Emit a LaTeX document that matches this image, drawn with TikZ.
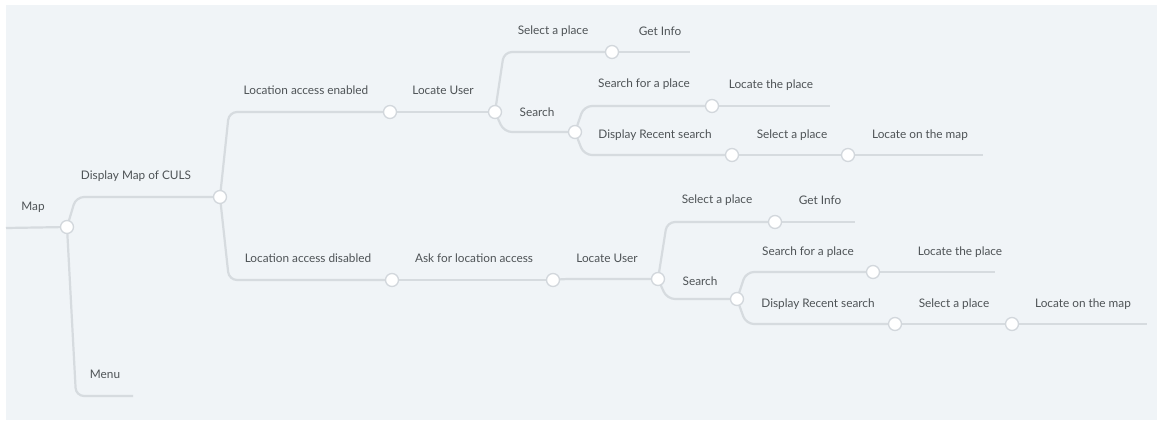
\documentclass[tikz,border=0pt]{standalone}
\usepackage{fontspec}
\setmainfont{Lato}
\usetikzlibrary{backgrounds}
\definecolor{bgc}{HTML}{F0F4F7}
\definecolor{linec}{HTML}{D6DBDF}
\definecolor{dotc}{HTML}{D2D7DC}
\definecolor{txtc}{HTML}{4E5356}
\tikzset{
  conn/.style={draw=linec, line width=2.2pt, rounded corners=8pt},
  dot/.style={circle, draw=dotc, fill=white, line width=1.3pt, minimum size=13pt, inner sep=0pt},
  lbl/.style={text=txtc, font=\fontsize{11.8}{14}\selectfont, inner sep=1pt},
}
\newcommand\mmlink[2]{\draw[conn] (#1.center) -- ([xshift=9pt]#1.center |- #2) -- (#2);}
\begin{document}
\begin{tikzpicture}[x=1pt,y=-1pt]
\useasboundingbox (0,0) rectangle (1159,423);
% circles
\node[dot] (map) at (67,227) {};
\node[dot] (dm) at (220,197) {};
\node[dot] (en) at (390,112) {};
\node[dot] (lu1) at (495,112) {};
\node[dot] (sp1) at (612,52) {};
\node[dot] (se1) at (575,132) {};
\node[dot] (sfp1) at (712,106) {};
\node[dot] (drs1) at (732,155) {};
\node[dot] (spb1) at (848,155) {};
\node[dot] (dis) at (392,280) {};
\node[dot] (ask) at (553,280) {};
\node[dot] (lu2) at (658,279) {};
\node[dot] (sp2) at (775,222) {};
\node[dot] (se2) at (737,299) {};
\node[dot] (sfp2) at (873,272) {};
\node[dot] (drs2) at (895,324) {};
\node[dot] (spb2) at (1012,324) {};
% leaf ends
\coordinate (mapstart) at (6,228);
\coordinate (menu) at (133,396);
\coordinate (gi1) at (690,52);
\coordinate (ltp1) at (830,106);
\coordinate (lom1) at (983,155);
\coordinate (gi2) at (855,222);
\coordinate (ltp2) at (995,272);
\coordinate (lom2) at (1147,324);
% labels
\node[lbl] (tmap) at (33,207) {Map};
\node[lbl] (tdm) at (136,176) {Display Map of CULS};
\node[lbl] (tmenu) at (105,374) {Menu};
\node[lbl] (ten) at (306,90) {Location access enabled};
\node[lbl] (tlu1) at (443,90) {Locate User};
\node[lbl] (tsp1) at (553,31) {Select a place};
\node[lbl] (tgi1) at (660,31) {Get Info};
\node[lbl] (tse1) at (537,112) {Search};
\node[lbl] (tsfp1) at (644,84) {Search for a place};
\node[lbl] (tltp1) at (771,85) {Locate the place};
\node[lbl] (tdrs1) at (655,135) {Display Recent search};
\node[lbl] (tspb1) at (792,135) {Select a place};
\node[lbl] (tlom1) at (920,135) {Locate on the map};
\node[lbl] (tdis) at (308,258) {Location access disabled};
\node[lbl] (task) at (474,258) {Ask for location access};
\node[lbl] (tlu2) at (607,258) {Locate User};
\node[lbl] (tsp2) at (717,200) {Select a place};
\node[lbl] (tgi2) at (820,200) {Get Info};
\node[lbl] (tse2) at (700,281) {Search};
\node[lbl] (tsfp2) at (808,252) {Search for a place};
\node[lbl] (tltp2) at (960,252) {Locate the place};
\node[lbl] (tdrs2) at (818,304) {Display Recent search};
\node[lbl] (tspb2) at (954,304) {Select a place};
\node[lbl] (tlom2) at (1083,304) {Locate on the map};
\begin{scope}[on background layer]
\fill[white] (0,0) rectangle (1159,423);
\fill[bgc] (6,5) rectangle (1157,420);
\draw[conn] (mapstart) -- (map.center);
\mmlink{map}{dm.center}
\mmlink{map}{menu}
\mmlink{dm}{en.center}
\mmlink{dm}{dis.center}
\mmlink{en}{lu1.center}
\mmlink{lu1}{sp1.center}
\mmlink{lu1}{se1.center}
\mmlink{sp1}{gi1}
\mmlink{se1}{sfp1.center}
\mmlink{se1}{drs1.center}
\mmlink{sfp1}{ltp1}
\mmlink{drs1}{spb1.center}
\mmlink{spb1}{lom1}
\mmlink{dis}{ask.center}
\mmlink{ask}{lu2.center}
\mmlink{lu2}{sp2.center}
\mmlink{lu2}{se2.center}
\mmlink{sp2}{gi2}
\mmlink{se2}{sfp2.center}
\mmlink{se2}{drs2.center}
\mmlink{sfp2}{ltp2}
\mmlink{drs2}{spb2.center}
\mmlink{spb2}{lom2}
\end{scope}
\end{tikzpicture}
\end{document}
